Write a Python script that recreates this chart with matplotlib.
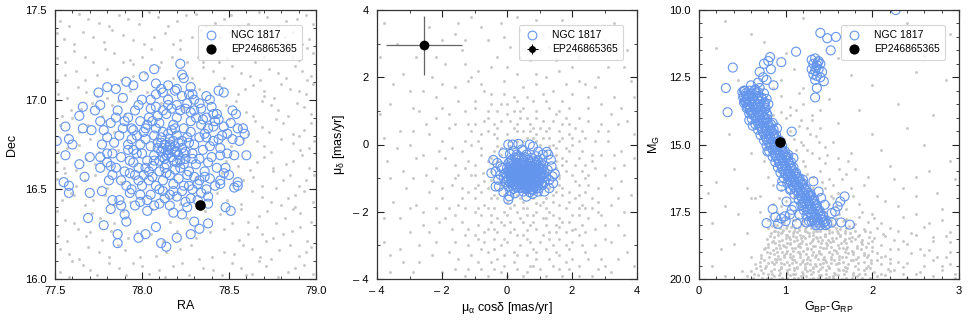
import numpy as np
import matplotlib
matplotlib.use("Agg")
import matplotlib.pyplot as plt
from matplotlib.ticker import MultipleLocator, FuncFormatter
from matplotlib.lines import Line2D

plt.rcParams['font.family'] = ['Liberation Sans', 'DejaVu Sans']
plt.rcParams['mathtext.fontset'] = 'custom'
plt.rcParams['mathtext.rm'] = 'Liberation Sans'
plt.rcParams['mathtext.it'] = 'Liberation Sans'
plt.rcParams['mathtext.default'] = 'regular'

# ---------------- data ----------------
cluster_name = "NGC 1817"
target_name = "EP246865365"

# Panel 1: RA / Dec
field_radec = [
(77.53,16.04),(77.66,16.08),(77.74,16.02),(77.87,16.06),(77.95,16.09),(78.04,16.03),(78.18,16.07),(78.27,16.02),(78.41,16.05),(78.52,16.09),(78.63,16.03),(78.71,16.07),(78.84,16.04),(78.93,16.08),
(77.58,16.14),(77.69,16.18),(77.81,16.12),(77.90,16.16),(78.08,16.13),(78.22,16.17),(78.33,16.11),(78.47,16.15),(78.58,16.19),(78.68,16.12),(78.79,16.16),(78.90,16.13),(78.97,16.18),
(77.52,16.24),(77.63,16.28),(77.77,16.22),(77.97,16.27),(78.12,16.21),(78.39,16.26),(78.56,16.22),(78.66,16.29),(78.75,16.23),(78.86,16.27),(78.95,16.21),
(77.56,16.33),(77.71,16.37),(77.84,16.31),(78.06,16.39),(78.26,16.34),(78.45,16.36),(78.61,16.32),(78.72,16.38),(78.82,16.34),(78.91,16.37),
(77.54,16.44),(77.67,16.41),(77.79,16.47),(77.93,16.43),(78.15,16.46),(78.43,16.48),(78.57,16.42),(78.69,16.46),(78.80,16.41),(78.88,16.47),(78.98,16.43),
(77.51,16.56),(77.62,16.52),(77.73,16.58),(77.88,16.54),(78.31,16.57),(78.52,16.53),(78.64,16.57),(78.77,16.51),(78.85,16.58),(78.94,16.55),
(77.55,16.62),(77.68,16.67),(77.83,16.63),(78.48,16.66),(78.62,16.61),(78.70,16.68),(78.83,16.64),(78.92,16.69),
(77.57,16.73),(77.70,16.78),(77.86,16.72),(78.51,16.74),(78.66,16.77),(78.74,16.71),(78.87,16.76),(78.96,16.73),
(77.53,16.86),(77.64,16.82),(77.79,16.88),(78.57,16.84),(78.65,16.88),(78.73,16.82),(78.81,16.87),(78.93,16.83),
(77.59,16.94),(77.71,16.98),(77.90,16.92),(78.23,16.95),(78.48,16.97),(78.60,16.93),(78.69,16.99),(78.78,16.94),(78.89,16.98),(78.97,16.92),
(77.52,17.03),(77.63,17.07),(77.74,17.02),(77.86,17.08),(78.03,17.04),(78.33,17.06),(78.55,17.03),(78.64,17.08),(78.76,17.01),(78.85,17.06),(78.94,17.03),
(77.56,17.14),(77.67,17.11),(77.80,17.17),(77.95,17.13),(78.10,17.18),(78.29,17.12),(78.41,17.16),(78.52,17.19),(78.62,17.13),(78.73,17.17),(78.83,17.12),(78.92,17.16),
(77.51,17.23),(77.61,17.27),(77.72,17.21),(77.84,17.26),(77.93,17.22),(78.05,17.28),(78.17,17.24),(78.26,17.21),(78.38,17.27),(78.49,17.23),(78.59,17.29),(78.70,17.24),(78.81,17.27),(78.90,17.22),(78.98,17.26),
(77.55,17.34),(77.66,17.38),(77.78,17.32),(77.89,17.36),(78.01,17.31),(78.13,17.37),(78.22,17.33),(78.34,17.39),(78.45,17.35),(78.55,17.31),(78.66,17.37),(78.77,17.33),(78.87,17.38),(78.96,17.34),
(77.53,17.44),(77.64,17.48),(77.75,17.43),(77.87,17.47),(77.98,17.42),(78.09,17.46),(78.20,17.44),(78.31,17.48),(78.42,17.43),(78.51,17.47),(78.61,17.42),(78.72,17.46),(78.83,17.44),(78.94,17.47),
(77.60,16.10),(77.70,16.26),(77.61,16.47),(77.76,16.66),(77.60,16.90),(77.83,16.97),(78.69,16.25),(78.88,16.40),(78.75,16.60),(78.90,16.80),(78.70,17.05),(78.95,17.11),(77.95,17.20),(78.35,17.21),(78.60,16.02),(78.10,16.05),
(77.58,16.01),(77.70,16.05),(77.81,16.09),(77.91,16.02),(78.00,16.07),(78.13,16.01),(78.23,16.09),(78.35,16.06),(78.46,16.02),(78.57,16.06),(78.67,16.10),(78.78,16.01),(78.88,16.06),(78.98,16.03),
(77.53,16.17),(77.64,16.11),(77.75,16.15),(77.86,16.19),(77.99,16.12),(78.14,16.15),(78.28,16.19),(78.40,16.12),(78.53,16.14),(78.63,16.17),(78.74,16.11),(78.85,16.19),(78.94,16.15),
(77.57,16.21),(77.68,16.24),(77.82,16.27),(77.92,16.23),(78.05,16.25),(78.20,16.27),(78.31,16.23),(78.47,16.28),(78.61,16.25),(78.71,16.21),(78.81,16.25),(78.91,16.29),
(77.51,16.38),(77.61,16.31),(77.76,16.34),(77.89,16.38),(78.16,16.32),(78.36,16.38),(78.52,16.31),(78.57,16.39),(78.67,16.35),(78.77,16.31),(78.87,16.39),(78.97,16.32),
(77.59,16.48),(77.72,16.44),(77.84,16.41),(78.00,16.45),(78.22,16.42),(78.49,16.44),(78.63,16.49),(78.74,16.43),(78.84,16.45),(78.93,16.49),
(77.56,16.59),(77.67,16.55),(77.80,16.51),(77.95,16.57),(78.46,16.59),(78.58,16.55),(78.69,16.52),(78.81,16.55),(78.90,16.52),(78.99,16.58),
(77.51,16.65),(77.62,16.61),(77.73,16.64),(78.55,16.63),(78.66,16.65),(78.75,16.62),(78.87,16.66),(78.96,16.62),
(77.52,16.71),(77.64,16.75),(77.75,16.71),(78.58,16.78),(78.70,16.74),(78.80,16.78),(78.91,16.72),(78.99,16.77),
(77.57,16.81),(77.69,16.86),(77.84,16.82),(78.50,16.89),(78.61,16.81),(78.69,16.85),(78.77,16.89),(78.87,16.81),(78.97,16.87),
(77.54,16.91),(77.65,16.95),(77.77,16.91),(77.86,16.99),(78.11,16.98),(78.54,16.99),(78.64,16.91),(78.74,16.97),(78.84,16.91),(78.93,16.96),
(77.57,17.01),(77.68,17.04),(77.80,17.01),(77.93,17.05),(78.15,17.03),(78.44,17.09),(78.59,17.06),(78.70,17.02),(78.80,17.09),(78.90,17.05),(78.98,17.09),
(77.51,17.11),(77.62,17.16),(77.74,17.14),(77.88,17.11),(78.02,17.15),(78.18,17.12),(78.35,17.18),(78.47,17.12),(78.57,17.15),(78.68,17.11),(78.78,17.15),(78.88,17.19),(78.97,17.13),
(77.56,17.21),(77.67,17.24),(77.79,17.28),(77.89,17.21),(78.00,17.24),(78.11,17.21),(78.22,17.28),(78.32,17.24),(78.44,17.21),(78.54,17.26),(78.65,17.21),(78.75,17.28),(78.86,17.24),(78.95,17.29),
(77.51,17.37),(77.61,17.31),(77.72,17.35),(77.83,17.39),(77.95,17.33),(78.07,17.35),(78.18,17.31),(78.29,17.35),(78.40,17.31),(78.50,17.38),(78.61,17.34),(78.72,17.31),(78.82,17.35),(78.92,17.31),
(77.58,17.41),(77.69,17.45),(77.81,17.41),(77.92,17.45),(78.04,17.49),(78.15,17.41),(78.25,17.47),(78.37,17.41),(78.47,17.45),(78.56,17.41),(78.67,17.49),(78.78,17.41),(78.89,17.45),(78.98,17.42),
]

member_radec = [
(77.51,16.77),(77.56,16.85),(77.58,16.78),(77.60,16.75),(77.56,16.69),(77.55,16.54),(77.58,16.52),(77.58,16.48),(77.64,16.91),(77.66,16.96),
(77.66,16.84),(77.64,16.64),(77.67,16.57),(77.69,16.34),(77.70,16.48),(77.70,16.68),(77.71,16.83),(77.73,16.94),(77.75,17.04),(77.76,16.97),
(77.76,16.88),(77.77,16.75),(77.76,16.68),(77.76,16.62),(77.77,16.49),(77.78,16.30),(77.80,17.07),(77.80,16.79),(77.80,16.70),(77.82,16.63),
(77.81,16.55),(77.82,16.39),(77.83,16.44),(77.85,17.06),(77.85,16.90),(77.86,16.94),(77.86,16.25),(77.86,16.20),(77.87,16.44),(77.88,16.41),
(77.89,17.01),(77.90,16.88),(77.90,16.36),(77.91,16.32),(77.91,17.10),(77.92,16.72),(77.93,16.59),(77.94,16.50),(77.95,17.08),(77.95,16.83),
(77.96,16.41),(77.98,16.23),(77.99,16.47),(78.01,17.13),(78.03,16.44),(78.03,16.38),(78.02,16.25),(78.07,17.17),(78.08,17.09),(78.08,16.29),
(78.11,16.20),(78.14,16.18),(78.11,17.06),(78.15,17.08),(78.20,17.06),(78.22,17.20),(78.23,17.14),(78.24,17.12),(78.20,16.23),(78.18,16.37),
(78.23,16.36),(78.28,17.07),(78.29,17.03),(78.28,16.45),(78.28,16.25),(78.30,16.32),(78.33,16.28),(78.34,16.95),(78.35,16.89),(78.37,17.02),
(78.38,16.42),(78.38,16.31),(78.39,17.00),(78.41,16.92),(78.41,16.85),(78.44,17.05),(78.47,17.04),(78.47,16.59),(78.48,16.40),(78.51,16.38),
(78.45,16.53),(78.44,16.78),(78.49,16.81),(78.51,16.87),(78.52,16.94),(78.54,16.92),(78.55,16.84),(78.56,16.77),(78.53,16.69),(78.55,16.54),
(78.55,16.52),(78.58,16.84),(78.59,16.81),(78.60,16.69),(78.53,16.51),(78.44,16.89),(78.45,16.69),
(78.17,16.72),(78.15,16.70),(78.19,16.74),(78.13,16.75),(78.21,16.69),(78.16,16.78),(78.18,16.66),(78.11,16.71),(78.23,16.73),(78.14,16.64),
(78.20,16.80),(78.09,16.76),(78.25,16.67),(78.12,16.82),(78.22,16.62),(78.07,16.69),(78.27,16.76),(78.10,16.60),(78.24,16.84),(78.05,16.74),
(78.29,16.70),(78.16,16.58),(78.18,16.86),(78.03,16.66),(78.31,16.64),(78.08,16.84),(78.26,16.58),(78.02,16.78),(78.33,16.79),(78.12,16.55),
(78.20,16.90),(78.00,16.70),(78.35,16.72),(78.06,16.57),(78.28,16.88),(77.98,16.62),(78.36,16.60),(78.14,16.92),(78.24,16.52),(77.97,16.80),
(78.38,16.84),(78.10,16.50),(78.30,16.94),(77.95,16.72),(78.40,16.68),(78.04,16.90),(78.32,16.53),(77.96,16.58),(78.41,16.77),(78.18,16.49),
(78.08,16.96),(78.37,16.90),(77.93,16.66),(78.26,16.98),(78.00,16.52),(78.43,16.62),(78.15,16.97),(77.99,16.88),(78.34,16.48),(78.22,16.94),
(78.13,16.67),(78.19,16.61),(78.11,16.79),(78.23,16.77),(78.06,16.63),(78.28,16.82),(78.17,16.83),(78.14,16.59),(78.21,16.56),(78.09,16.73),
(78.25,16.71),(78.16,16.75),(78.12,16.68),(78.20,16.65),(78.07,16.80),(78.30,16.75),(78.04,16.60),(78.33,16.67),(78.18,16.53),(78.10,16.87),
(78.27,16.60),(78.02,16.84),(78.36,16.81),(78.13,16.45),(78.29,16.50),(77.92,16.75),(78.39,16.56),(78.05,16.95),(78.42,16.88),(77.94,16.84),
(78.15,17.00),(78.30,17.00),(78.00,17.00),(78.10,16.42),(78.25,16.43),(77.90,16.60),(78.45,16.73),(77.88,16.68),(78.46,16.80),(77.91,16.52),
(78.38,16.46),(78.20,16.46),(78.05,16.47),(77.96,16.94),(78.40,16.96),(78.45,16.55),(77.87,16.80),(78.23,17.02),(78.08,17.03),
(78.16,16.74),(78.19,16.71),(78.14,16.69),(78.21,16.76),(78.17,16.68),(78.12,16.73),(78.24,16.70),(78.15,16.81),(78.22,16.66),(78.10,16.66),
(77.95,16.65),(77.97,16.70),(77.99,16.75),(77.94,16.78),(78.01,16.82),(78.03,16.86),(78.06,16.88),(78.09,16.91),(78.12,16.94),(78.17,16.95),
(78.20,16.97),(78.25,16.95),(78.28,16.93),(78.31,16.90),(78.34,16.86),(78.37,16.79),(78.39,16.74),(78.38,16.65),(78.36,16.57),(78.33,16.55),
(78.30,16.57),(78.27,16.52),(78.23,16.49),(78.16,16.47),(78.12,16.49),(78.08,16.52),(78.04,16.55),(78.01,16.58),(77.98,16.55),(78.02,16.62),
(77.85,16.62),(77.83,16.70),(77.84,16.76),(77.89,16.84),(77.92,16.90),(77.98,16.97),(78.05,17.00),(78.12,17.04),(78.19,17.05),(78.27,17.03),
(78.33,16.98),(78.43,16.92),(78.47,16.85),(78.49,16.70),(78.48,16.62),(78.42,16.52),(78.37,16.50),(78.32,16.44),(78.26,16.40),(78.16,16.41),
(78.07,16.41),(77.99,16.43),(77.93,16.48),(77.88,16.55),(77.83,16.58),(77.80,16.65),(77.78,16.83),(77.82,16.87),(78.52,16.78),(78.50,16.58),
(78.15,16.72),(78.18,16.77),(78.13,16.62),(78.24,16.64),(78.20,16.71),(78.11,16.76),(78.26,16.79),(78.07,16.66),(78.29,16.67),(78.19,16.84),
]

target_ra = [78.335]
target_dec = [16.415]

# Panel 2: proper motions
field_pm = [
(-3.8,3.6),(-3.2,2.1),(-3.6,1.2),(-2.9,0.4),(-3.7,-0.5),(-3.1,-1.3),(-3.8,-2.2),(-3.3,-3.1),(-3.6,-3.8),(-2.7,-3.5),(-2.4,-2.6),(-2.8,-1.8),(-2.5,-0.9),(-2.2,0.8),(-2.6,1.6),
(-1.9,2.4),(-1.6,3.3),(-1.1,3.8),(-0.6,3.1),(-0.2,3.6),(0.4,3.4),(0.9,3.7),(1.3,2.9),(1.9,3.4),(2.6,3.2),(3.3,3.6),(3.7,2.8),(3.1,2.3),(2.2,2.6),(3.8,1.9),(3.5,1.1),
(3.9,0.3),(3.6,-0.6),(3.8,-1.5),(3.4,-2.4),(3.7,-3.2),(3.2,-3.8),(-1.3,-3.9),(-0.8,-3.7),(-2.0,-3.8),(-3.9,2.6),(-3.4,3.0),(-2.0,3.1),(-1.4,2.8),(-0.9,2.2),(-0.3,2.6),
(0.1,2.9),(0.7,2.5),(1.6,2.2),(2.8,2.0),(-3.4,-0.1),(-3.9,0.9),(-3.0,-2.6),(-3.5,-1.7),
(-2.1,-0.2),(-1.8,0.5),(-1.5,1.3),(-1.2,1.9),(-0.7,1.6),(-0.1,1.9),(0.3,2.1),(0.9,1.8),(1.4,1.6),(2.0,1.5),(2.5,1.1),(2.9,0.6),(3.1,0.1),(3.0,-0.9),(2.8,-1.7),(3.0,-2.8),
(2.5,-3.4),(1.9,-3.7),(1.2,-3.9),(0.6,-3.8),(-0.1,-3.6),(-0.6,-3.2),(-1.2,-3.0),(-1.7,-2.5),(-2.0,-1.6),(-2.3,-1.1),(-1.9,-2.2),(-1.4,-1.3),(-1.6,-0.6),(-1.0,0.6),(-0.5,1.2),
(0.2,1.4),(0.8,1.3),(1.3,1.1),(1.8,0.8),(2.3,0.4),(2.6,-0.3),(2.4,-1.0),(2.2,-2.1),(2.7,-2.5),(1.6,-3.3),(0.9,-3.4),(0.2,-3.2),(-0.4,-2.8),(-0.9,-2.4),(-1.3,-1.9),(-1.1,-0.9),
(-1.3,0.1),(-0.6,0.4),(0.0,0.9),(0.6,0.8),(1.1,0.7),(1.6,0.4),(2.0,0.0),(2.1,-0.6),(1.9,-1.4),(1.7,-2.3),(2.0,-2.9),(1.3,-2.8),(0.7,-2.9),(0.1,-2.6),(-0.3,-2.2),(-0.7,-1.8),
(-0.9,-1.2),(-0.8,-0.3),(-0.3,0.2),(0.3,0.4),(0.9,0.3),(1.4,0.0),(1.7,-0.4),(1.6,-1.0),(1.4,-1.7),(1.1,-2.2),(0.5,-2.3),(-0.1,-2.0),(-0.4,-1.5),(-0.5,-0.8),(-0.2,-0.3),
(0.6,-1.9),(0.2,-1.8),(1.0,-1.8),(1.3,-1.3),(1.5,-0.7),(1.2,-0.2),(0.8,0.2),(0.3,0.1),(-0.2,-0.1),(-0.6,-0.5),(-0.7,-1.1),(-0.5,-1.6),(-0.1,-1.5),(1.8,-0.8),(1.8,-1.9),
(0.9,-2.5),(0.3,-2.7),(-0.3,-2.6),(-0.8,-2.1),(-1.0,-1.6),(-1.2,-0.5),(-0.9,0.1),(-0.4,0.6),(0.1,0.7),(0.7,0.6),(1.2,0.4),(1.6,0.1),(1.9,-0.2),(2.2,-1.2),(2.3,-1.8),
(2.1,-2.5),(1.5,-2.6),(1.2,-3.1),(0.4,-3.0),(-0.2,-3.0),(-0.6,-2.5),(1.0,-1.5),(0.4,-1.6),(-0.2,-1.2),(1.3,-0.9),(1.7,-1.5),(1.4,-2.1),(0.8,-2.1),(0.1,-2.3),(-0.4,-1.9),
(-0.6,-1.3),(-0.4,-0.2),(0.0,0.3),(0.5,0.4),(1.0,0.0),(1.5,-0.3),(2.4,-1.4),(2.5,-2.2),(1.9,-3.1),(0.6,-3.3),(-0.1,-3.3),(-0.9,-2.8),(-1.4,-2.3),(-1.5,-0.9),(-1.7,-0.1),
(-1.1,0.4),(0.0,1.2),(0.5,1.1),(1.6,1.0),(2.1,0.5),(2.7,-0.7),(2.6,-1.6),(2.3,-3.0),(1.4,-3.6),(0.3,-3.7),(-0.5,-3.5),(2.9,-3.4),(2.6,-3.9),(1.0,-3.7),(0.0,-3.9),
(-1.5,-3.4),(-2.2,-2.9),(-2.6,-2.0),(-2.8,-0.4),(-2.4,0.3),(-2.0,1.1),(-1.0,1.3),(-0.3,1.0),(0.5,1.7),(1.2,2.0),(2.4,1.8),(3.3,1.4),(3.4,0.6),(3.3,-0.3),(3.5,-1.1),
(3.2,-1.8),(3.6,-2.7),(3.0,-3.6),
(0.5,-1.9),(0.0,-2.1),(-0.5,-2.3),(-1.0,-2.0),(-1.2,-1.4),(-1.0,-0.6),(-0.8,0.3),(-0.3,0.5),(0.3,0.6),(0.8,0.5),(1.3,0.2),(1.8,-0.1),(2.0,-0.9),(2.1,-1.6),(1.9,-2.3),
(1.6,-2.8),(1.0,-2.9),(0.5,-2.7),(-0.1,-2.8),(-0.7,-2.9),(1.2,-1.9),(1.6,-1.8),(2.2,-1.9),(2.4,-2.6),(2.0,-3.4),(1.5,-3.2),(0.8,-3.1),(0.2,-3.5),(-0.4,-3.1),(-1.1,-3.3),
(-1.6,-2.9),(-1.8,-1.9),(-1.7,-1.2),(-1.9,-0.4),(-1.6,0.6),(-1.3,1.0),(-0.6,1.0),(0.2,1.0),(0.9,1.0),(1.4,0.7),(1.9,0.3),(2.3,-0.2),(2.5,-0.9),(2.8,-1.3),(2.9,-2.1),
(2.7,-3.0),(2.2,-3.6),(1.7,-3.9),(0.8,-3.6),(-0.2,-3.8),(-0.9,-3.5),(0.6,-2.1),(0.3,-2.0),(0.9,-2.0),(1.1,-1.7),(1.4,-1.5),(1.6,-1.2),(1.7,-0.6),(1.5,-0.1),(1.1,0.2),
(0.6,0.2),(0.1,0.1),(-0.3,-0.05),(-0.5,-0.4),(-0.75,-0.85),(-0.8,-1.4),(-0.6,-1.9),(-0.2,-2.3),(0.2,-2.5),(0.7,-2.4),(1.2,-2.4),(1.6,-2.2),(1.9,-1.7),(2.1,-1.1),(2.2,-0.4),
(2.0,0.2),(1.7,0.6),(1.0,0.5),(0.4,0.8),(-0.2,0.7),(-0.7,0.7),(-1.1,0.0),(-1.3,-0.7),(-1.4,-1.6),(-1.2,-2.5),(-0.7,-2.6),(0.0,-2.9),(0.6,-2.8),(1.3,-2.6),(1.8,-2.6),
(2.3,-2.4),(2.6,-1.9),(2.4,-0.6),(2.7,0.1),(2.5,0.7),(1.9,1.1),(1.2,1.3),(0.6,1.4),(-0.1,1.5),(-0.8,1.8),(-1.6,1.7),(-2.2,1.4),(-2.5,0.6),(-2.6,-0.3),(-2.4,-1.4),
(-2.1,-2.3),(-1.8,-3.2),(-1.2,-3.7),(-0.6,-3.9),(0.5,-3.9),(1.3,-3.4),(1.8,-3.5),(2.4,-3.2),(3.0,-2.4),(3.2,-1.3),(3.3,-0.7),(3.1,0.4),(2.9,1.2),(2.2,1.9),(1.5,2.5),
(0.4,2.6),(-0.5,2.3),(-1.3,2.4),(-2.3,2.0),(-2.9,1.1),(-3.3,0.4),(-3.2,-0.8),(-3.0,-1.9),(-2.7,-3.0),(-3.2,-3.5),(-3.8,-2.9),(-3.6,-1.0),(-3.8,0.2),(-3.5,1.8),(-2.8,2.6),
(-2.4,3.5),(-1.5,3.6),(-0.8,3.5),(0.3,3.8),(1.1,3.3),(1.7,3.7),(2.4,2.9),(3.0,3.1),(3.6,2.3),(3.9,1.4),(3.7,0.7),(3.9,-0.4),(3.6,-2.0),(3.9,-3.6),(3.4,-3.4),
(0.0,-1.7),(0.3,-1.5),(0.8,-1.6),(1.2,-1.6),(1.5,-1.4),(1.6,-0.9),(1.5,-0.5),(1.3,-0.05),(0.9,0.1),(0.5,0.1),(0.1,-0.05),(-0.3,-0.5),(-0.5,-1.05),(-0.3,-1.6),(0.1,-1.9),
(0.5,-1.7),(0.9,-1.75),(1.3,-2.0),(1.7,-1.3),(1.8,-0.5),(1.7,0.2),(1.3,0.5),(0.7,0.4),(0.2,0.5),(-0.4,0.3),(-0.8,-0.1),(-1.0,-0.9),(-1.0,-1.3),(-0.9,-1.9),(-0.5,-2.1),
(-0.1,-2.4),(0.4,-2.2),(0.8,-2.3),(1.2,-2.2),(1.5,-2.4),(2.0,-2.1),(2.2,-1.5),(2.3,-0.8),(2.2,0.1),(1.9,0.6),(1.5,0.9),(0.9,0.8),(0.4,1.0),(-0.2,1.2),(-0.6,0.8),
(-1.2,0.6),(-1.4,-0.2),(-1.6,-1.0),(-1.5,-1.8),(-1.3,-2.7),(-0.8,-3.1),(-0.3,-3.4),(0.3,-3.3),(0.9,-3.2),(1.4,-3.0),(1.8,-3.0),(2.2,-2.7),(2.5,-1.2),(2.6,-0.5),(2.4,0.2),
(2.2,0.8),(1.7,1.3),(1.1,1.5),(0.3,1.3),(-0.5,1.5),(-1.0,1.1),(-1.8,0.9),(-2.0,0.1),(-2.2,-0.7),(-2.0,-1.3),(-2.2,-1.9),(-1.6,-2.1),(-1.0,-2.7),(-0.4,-2.5),(0.6,-2.55),
(1.1,-2.7),(1.6,-2.45),(2.0,-2.55),(2.4,-1.9),(2.8,-2.0),(2.9,-0.3),(2.8,0.4),(2.5,1.4),(1.8,1.8),(0.9,2.1),(0.0,2.3),(-1.1,2.0),(-2.0,1.8),(-2.7,1.0),(-3.0,0.0),
(-2.9,-1.0),(-2.6,-2.4),(-2.3,-3.3),(-1.6,-3.7),(-0.4,-3.7),(0.7,-3.6),(1.6,-3.7),(2.2,-3.9),(2.8,-3.7),(3.2,-2.9),(3.4,-1.6),(3.5,-0.2),(3.2,0.9),(2.7,1.7),(2.0,2.3),
(1.0,2.8),(-0.1,3.2),(-1.3,3.1),(-2.2,2.6),(-3.0,1.6),(-3.3,-2.2),(-3.6,-3.3),(-2.9,-3.8),
]

member_pm = [
(-0.42,-0.46),(-0.48,-0.85),(-0.35,-1.25),(0.04,0.00),(0.17,0.00),(0.35,0.02),(0.70,0.00),(-0.11,-0.26),(0.09,-0.28),(0.96,-0.21),(1.22,-0.22),(1.27,-0.30),
(1.37,-0.65),(1.47,-0.87),(1.42,-1.15),(1.15,-1.40),(0.79,-1.47),(0.04,-1.64),(-0.11,-1.42),(-0.27,-1.05),(-0.20,-0.65),(0.07,-1.54),(0.50,-0.18),(0.80,-0.06),
(0.05,-0.55),(0.15,-0.45),(0.25,-0.40),(0.35,-0.35),(0.45,-0.42),(0.55,-0.38),(0.65,-0.45),(0.75,-0.40),(0.85,-0.50),(0.95,-0.48),(1.05,-0.55),
(0.00,-0.70),(0.10,-0.65),(0.20,-0.60),(0.30,-0.55),(0.40,-0.60),(0.50,-0.55),(0.60,-0.62),(0.70,-0.58),(0.80,-0.65),(0.90,-0.60),(1.00,-0.68),(1.10,-0.72),
(-0.05,-0.85),(0.05,-0.80),(0.15,-0.78),(0.25,-0.75),(0.35,-0.72),(0.45,-0.70),(0.55,-0.75),(0.65,-0.72),(0.75,-0.78),(0.85,-0.75),(0.95,-0.80),(1.05,-0.85),(1.15,-0.82),
(-0.10,-1.00),(0.00,-0.95),(0.10,-0.92),(0.20,-0.90),(0.30,-0.88),(0.40,-0.85),(0.50,-0.90),(0.60,-0.87),(0.70,-0.92),(0.80,-0.90),(0.90,-0.95),(1.00,-0.98),(1.10,-1.00),(1.20,-0.95),
(-0.05,-1.12),(0.05,-1.08),(0.15,-1.05),(0.25,-1.02),(0.35,-1.00),(0.45,-1.05),(0.55,-1.02),(0.65,-1.06),(0.75,-1.04),(0.85,-1.10),(0.95,-1.08),(1.05,-1.15),(1.15,-1.12),
(0.05,-1.25),(0.15,-1.20),(0.25,-1.18),(0.35,-1.15),(0.45,-1.20),(0.55,-1.17),(0.65,-1.22),(0.75,-1.20),(0.85,-1.25),(0.95,-1.22),
(0.20,-1.32),(0.40,-1.30),(0.60,-1.33),(0.80,-1.35),(0.30,-0.30),(0.60,-0.30),(0.90,-0.35),(-0.15,-0.70),(1.25,-0.75),(1.30,-1.05),(-0.20,-0.90),(0.50,-1.40),(0.70,-1.42),(0.10,-1.38),
(0.10,-0.50),(0.30,-0.45),(0.50,-0.48),(0.70,-0.50),(0.90,-0.55),(0.20,-0.68),(0.45,-0.62),(0.65,-0.66),(0.85,-0.70),(1.05,-0.75),(0.10,-0.85),(0.30,-0.80),(0.50,-0.78),
(0.70,-0.82),(0.90,-0.86),(1.10,-0.90),(0.00,-1.05),(0.20,-0.97),(0.40,-0.95),(0.60,-0.97),(0.80,-1.00),(1.00,-1.05),(0.10,-1.15),(0.30,-1.10),(0.50,-1.12),(0.70,-1.12),
(0.90,-1.15),(1.10,-1.20),(0.30,-1.25),(0.50,-1.28),(0.70,-1.28),(0.90,-1.30),(0.25,-0.90),(0.55,-0.85),(0.75,-0.95),(0.35,-1.05),(0.65,-0.80),(0.45,-1.00),(0.85,-1.02),
(0.15,-0.90),(-0.30,-0.55),(-0.35,-0.80),(1.35,-0.45),(1.40,-0.95),(1.30,-1.30),(0.25,-1.45),(0.95,-1.40),(0.20,-0.20),(0.45,-0.15),(1.10,-0.30),(-0.25,-1.25),(0.60,-1.55),
(0.12,-0.58),(0.28,-0.62),(0.42,-0.55),(0.58,-0.60),(0.72,-0.64),(0.88,-0.62),(1.02,-0.62),(0.08,-0.76),(0.22,-0.82),(0.38,-0.78),(0.52,-0.84),(0.68,-0.76),(0.82,-0.82),
(0.98,-0.74),(0.12,-1.00),(0.28,-0.96),(0.42,-0.92),(0.58,-0.95),(0.72,-1.00),(0.88,-0.98),(1.02,-0.92),(0.18,-1.12),(0.38,-1.18),(0.52,-1.08),(0.68,-1.16),(0.82,-1.18),
(0.98,-1.12),(0.28,-1.28),(0.62,-1.26),(0.78,-1.32),(0.42,-0.70),(0.62,-0.70),(0.32,-0.92),(0.48,-1.16),(0.78,-0.68),(0.92,-0.88),(0.18,-0.72),(0.58,-1.30),(0.98,-1.30),(1.12,-0.62),
]

target_pmra = [-2.55]
target_pmdec = [2.95]
target_pmra_err = [1.18]
target_pmdec_err = [0.88]

# Panel 3: colour-magnitude diagram
field_cmd = [
(0.30,10.4),(0.60,10.9),(1.20,10.3),(1.70,10.6),(2.40,10.5),(2.90,10.9),(0.20,11.4),(0.75,11.2),(1.00,11.6),(1.60,11.8),(2.10,11.3),(2.60,11.7),(0.45,12.6),(1.10,12.2),
(1.20,12.9),(1.75,12.4),(2.00,12.8),(2.50,12.3),(2.85,12.6),(0.50,13.3),(0.95,13.2),(1.05,13.6),(1.20,13.5),(1.50,13.3),(1.85,13.7),(2.30,13.5),(2.70,13.9),(0.85,13.9),
(0.90,14.2),(1.00,14.0),(1.15,14.3),(1.30,14.1),(1.40,14.4),(1.60,14.2),(2.00,14.6),(2.40,14.4),(0.35,14.6),(0.60,15.3),(0.90,14.6),(1.10,14.8),(1.20,15.0),(1.35,14.7),
(1.45,15.1),(1.55,14.9),(1.75,15.3),(2.10,15.2),(2.60,15.0),(2.90,15.6),(0.40,15.9),(0.75,15.6),(1.00,15.4),(1.20,15.6),(1.30,15.3),(1.45,15.7),(1.60,15.5),(1.80,15.9),
(2.20,15.8),(2.50,16.2),(0.20,16.4),(0.55,16.6),(0.80,16.2),(0.95,16.7),(1.15,16.4),(1.25,16.1),(1.50,16.3),(1.60,16.8),(1.70,16.1),(1.90,16.5),(2.05,16.9),(2.35,16.6),
(2.75,16.8),(2.95,16.3),(0.65,17.0),(0.85,17.2),(1.00,17.1),(1.30,17.3),(1.55,17.0),(1.70,17.4),(1.85,17.2),(2.00,17.6),(2.30,17.3),(2.50,17.6),(2.80,17.4),(0.45,17.6),(0.70,17.5),
(0.80,17.8),(0.90,18.0),(0.95,18.3),(1.00,18.1),(1.05,18.5),(1.10,18.2),(1.15,18.7),(1.20,18.4),(1.25,18.9),(1.30,18.6),(1.35,18.2),(1.40,18.8),(1.45,18.4),(1.50,19.0),
(1.55,18.6),(1.60,18.3),(1.65,19.2),(1.70,18.9),(1.80,18.5),(1.90,19.1),(2.00,18.8),(0.85,18.6),(0.90,19.0),(0.95,19.4),(1.00,18.8),(1.05,19.2),(1.10,19.6),(1.15,19.0),
(1.20,19.3),(1.25,19.7),(1.30,19.1),(1.35,19.5),(1.40,19.9),(1.45,19.3),(1.50,19.6),(1.55,19.9),(1.60,19.4),(1.70,19.7),(1.75,19.3),(1.85,19.8),(1.95,19.5),(2.10,19.2),
(2.20,19.7),(2.30,18.9),(2.40,19.4),(2.50,19.8),(2.60,19.1),(2.70,18.6),(2.80,19.5),(2.90,19.0),(2.95,19.8),(2.45,18.3),(2.20,18.1),(2.65,17.9),(0.75,18.9),(0.70,19.5),
(0.80,19.8),(0.60,19.2),(0.50,19.7),(0.30,19.9),(0.98,17.9),(1.08,17.8),(1.18,17.9),(1.28,18.0),(1.38,17.9),(1.02,18.35),(1.12,18.45),(1.22,18.15),(1.32,18.35),(1.42,18.55),
(0.92,18.75),(1.08,18.95),(1.18,18.65),(1.38,19.05),(1.48,18.75),(1.58,18.95),(1.12,19.35),(1.22,19.55),(1.32,19.75),(1.42,19.55),(1.52,19.25),(1.62,19.65),(1.02,19.65),
(0.92,19.85),(1.18,19.90),(1.28,19.45),(1.08,19.80),(0.88,19.25),(1.35,18.45),(1.25,18.25),(1.15,18.05),(1.05,18.70),(0.98,19.10),(1.68,18.50),(1.78,19.00),(1.88,18.70),
(1.98,19.30),(2.05,19.90),(2.15,18.40),(2.35,18.60),(2.55,18.90),(2.75,19.20),(2.85,18.40),
(0.95,13.8),(1.05,14.5),(1.18,14.9),(1.25,15.2),(1.38,15.5),(1.10,15.9),(1.40,16.0),(1.45,16.6),(1.35,16.9),(1.50,17.2),(1.62,17.6),(1.10,16.9),(0.90,17.5),(1.75,16.6),
(1.22,17.6),(1.48,17.8),(1.58,17.9),(1.70,18.1),(0.88,18.2),(1.92,18.2),(2.10,17.9),(1.30,13.9),(1.15,13.1),(0.85,12.9),(0.95,12.6),(0.92,17.0),(1.02,16.2),(1.28,14.6),
(0.82,17.65),(0.93,17.72),(1.04,17.66),(1.14,17.75),(1.26,17.68),(1.36,17.74),(1.47,17.66),(1.58,17.72),(1.70,17.78),(1.85,17.68),(2.02,17.75),(2.35,17.70),(2.80,17.80),
(0.86,17.95),(0.97,17.85),(1.09,17.98),(1.20,17.83),(1.31,17.96),(1.43,17.84),(1.55,17.98),(1.66,17.86),(1.80,17.95),(1.95,17.87),
(0.80,18.10),(0.88,18.05),(0.97,18.18),(1.06,18.08),(1.15,18.16),(1.24,18.06),(1.33,18.15),(1.42,18.08),(1.50,18.18),(1.58,18.10),(1.68,18.20),(1.78,18.06),(1.90,18.15),(2.05,18.10),(2.30,18.20),(2.60,18.05),
(0.83,18.30),(0.91,18.25),(1.00,18.38),(1.08,18.28),(1.17,18.35),(1.27,18.30),(1.36,18.22),(1.45,18.32),(1.54,18.25),(1.63,18.38),(1.74,18.28),(1.85,18.36),(1.97,18.25),(2.12,18.32),(2.50,18.38),(2.90,18.25),
(0.78,18.50),(0.87,18.45),(0.96,18.55),(1.04,18.45),(1.13,18.56),(1.22,18.48),(1.31,18.52),(1.40,18.45),(1.49,18.55),(1.58,18.47),(1.67,18.58),(1.77,18.45),(1.88,18.55),(2.02,18.48),(2.25,18.55),(2.70,18.45),
(0.80,18.70),(0.88,18.65),(0.97,18.75),(1.05,18.66),(1.14,18.78),(1.23,18.70),(1.32,18.78),(1.41,18.68),(1.51,18.62),(1.60,18.75),(1.70,18.66),(1.82,18.78),(1.95,18.66),(2.10,18.75),(2.40,18.70),(2.90,18.62),
(0.76,18.85),(0.85,18.92),(0.94,18.85),(1.02,18.95),(1.11,18.85),(1.20,18.95),(1.29,18.88),(1.38,18.95),(1.47,18.85),(1.56,18.92),(1.66,18.85),(1.76,18.96),(1.87,18.88),(2.00,18.95),(2.20,18.88),(2.65,18.92),
(0.72,19.10),(0.82,19.05),(0.91,19.15),(1.00,19.05),(1.08,19.15),(1.17,19.08),(1.26,19.18),(1.35,19.10),(1.44,19.18),(1.53,19.08),(1.62,19.15),(1.72,19.05),(1.83,19.18),(1.95,19.10),(2.15,19.15),(2.45,19.05),(2.85,19.18),
(0.75,19.30),(0.84,19.35),(0.93,19.25),(1.01,19.35),(1.10,19.28),(1.19,19.38),(1.28,19.30),(1.37,19.25),(1.46,19.36),(1.56,19.30),(1.66,19.38),(1.78,19.28),(1.90,19.36),(2.05,19.28),(2.30,19.35),(2.70,19.30),
(0.65,19.45),(0.77,19.50),(0.86,19.45),(0.95,19.55),(1.04,19.48),(1.13,19.56),(1.22,19.45),(1.31,19.55),(1.40,19.45),(1.49,19.52),(1.58,19.45),(1.68,19.55),(1.80,19.50),(1.93,19.58),(2.10,19.45),(2.35,19.55),(2.60,19.50),(2.90,19.45),
(0.60,19.70),(0.72,19.65),(0.83,19.72),(0.92,19.65),(1.01,19.75),(1.10,19.68),(1.19,19.75),(1.28,19.65),(1.37,19.72),(1.46,19.68),(1.56,19.78),(1.66,19.68),(1.78,19.76),(1.90,19.68),(2.02,19.75),(2.25,19.68),(2.55,19.75),(2.80,19.65),
(0.55,19.90),(0.68,19.85),(0.78,19.95),(0.87,19.88),(0.96,19.95),(1.05,19.86),(1.14,19.95),(1.23,19.88),(1.32,19.96),(1.41,19.86),(1.50,19.94),(1.60,19.86),(1.70,19.95),(1.82,19.88),(1.97,19.96),(2.15,19.86),(2.40,19.95),(2.70,19.88),(2.95,19.95),
(0.98,14.8),(1.12,15.2),(1.22,15.8),(1.32,16.2),(1.42,16.4),(1.52,16.9),(1.58,17.3),(1.45,17.5),(1.32,16.6),(1.55,16.5),(1.65,16.3),(1.78,16.9),(1.88,17.5),(2.15,17.1),(2.50,16.9),
(1.25,14.4),(1.38,14.9),(1.48,15.4),(1.62,15.9),(1.72,15.6),(1.95,16.2),(2.25,16.3),(2.65,16.0),(1.05,13.9),(1.12,13.7),(1.40,13.7),(0.98,15.1),(1.18,14.1),(0.92,16.0),
(0.85,16.5),(0.70,16.9),(0.95,17.3),(0.55,18.3),(0.40,18.7),(0.25,18.9),(0.15,19.5),(0.60,17.0),(0.30,17.3),(0.10,16.8),(0.15,17.9),
(0.88,17.78),(0.99,17.74),(1.11,17.79),(1.23,17.73),(1.34,17.78),(1.45,17.72),(1.52,17.80),
(0.84,18.02),(0.93,18.12),(1.02,18.03),(1.11,18.11),(1.20,18.01),(1.29,18.09),(1.38,18.03),(1.46,18.12),(1.55,18.04),(1.63,18.13),(1.73,18.02),
(0.87,18.21),(0.96,18.27),(1.04,18.20),(1.13,18.26),(1.22,18.21),(1.31,18.27),(1.40,18.20),(1.50,18.28),(1.59,18.21),(1.69,18.30),(1.80,18.22),
(0.82,18.42),(0.91,18.38),(1.00,18.46),(1.09,18.40),(1.18,18.47),(1.27,18.40),(1.36,18.48),(1.45,18.40),(1.54,18.46),(1.63,18.41),(1.73,18.48),(1.84,18.42),(1.96,18.45),
(0.84,18.62),(0.92,18.58),(1.01,18.65),(1.10,18.60),(1.19,18.58),(1.28,18.66),(1.37,18.60),(1.46,18.67),(1.55,18.58),(1.64,18.65),(1.75,18.60),(1.87,18.64),(2.00,18.60),
(0.80,18.80),(0.89,18.85),(0.98,18.78),(1.07,18.84),(1.16,18.80),(1.25,18.85),(1.34,18.79),(1.43,18.86),(1.52,18.80),(1.61,18.86),(1.71,18.80),(1.82,18.86),(1.93,18.80),
(0.78,19.00),(0.87,19.06),(0.96,19.00),(1.05,19.07),(1.14,19.00),(1.23,19.06),(1.32,19.00),(1.41,19.07),(1.50,19.00),(1.59,19.05),(1.68,19.00),(1.78,19.08),(1.90,19.02),(2.05,19.05),
(0.72,19.22),(0.81,19.18),(0.90,19.24),(0.98,19.20),(1.07,19.25),(1.16,19.20),(1.25,19.24),(1.34,19.20),(1.43,19.25),(1.52,19.20),(1.61,19.25),(1.70,19.20),(1.81,19.25),(1.94,19.20),(2.20,19.25),
(0.70,19.38),(0.80,19.42),(0.89,19.38),(0.98,19.44),(1.07,19.40),(1.16,19.45),(1.25,19.40),(1.34,19.44),(1.43,19.40),(1.52,19.42),(1.62,19.40),(1.72,19.44),(1.84,19.40),(1.98,19.42),(2.20,19.40),
(0.66,19.60),(0.76,19.58),(0.86,19.62),(0.95,19.60),(1.04,19.62),(1.13,19.58),(1.22,19.62),(1.31,19.60),(1.40,19.63),(1.50,19.60),(1.60,19.62),(1.71,19.60),(1.83,19.62),(1.97,19.60),(2.18,19.62),
(0.64,19.80),(0.74,19.78),(0.84,19.82),(0.93,19.78),(1.02,19.82),(1.11,19.80),(1.20,19.82),(1.29,19.80),(1.38,19.84),(1.47,19.80),(1.57,19.82),(1.67,19.80),(1.78,19.84),(1.92,19.80),(2.10,19.82),(2.35,19.80),
(0.62,19.97),(0.73,19.98),(0.83,19.97),(0.92,19.99),(1.01,19.97),(1.10,19.98),(1.19,19.97),(1.28,19.99),(1.37,19.97),(1.46,19.98),(1.55,19.97),(1.65,19.99),(1.76,19.97),(1.88,19.98),
]

member_cmd = [
(0.53,13.0),(0.58,13.0),(0.64,13.0),(0.54,13.1),(0.60,13.1),(0.66,13.1),(0.52,13.2),(0.57,13.2),(0.62,13.2),(0.68,13.2),(0.55,13.3),(0.61,13.3),(0.67,13.3),(0.73,13.3),
(0.54,13.4),(0.59,13.4),(0.64,13.4),(0.70,13.4),(0.56,13.5),(0.62,13.5),(0.68,13.5),(0.75,13.5),(0.58,13.6),(0.63,13.6),(0.69,13.6),(0.59,13.7),(0.65,13.7),(0.71,13.7),
(0.61,13.8),(0.67,13.8),(0.73,13.8),(0.63,13.9),(0.69,13.9),(0.74,13.9),(0.65,14.0),(0.70,14.0),(0.76,14.0),(0.67,14.1),(0.72,14.1),(0.77,14.1),(0.68,14.2),(0.74,14.2),
(0.79,14.2),(0.70,14.3),(0.75,14.3),(0.81,14.3),(0.72,14.4),(0.77,14.4),(0.82,14.4),(0.73,14.5),(0.78,14.5),(0.84,14.5),(0.75,14.6),(0.80,14.6),(0.86,14.6),(0.77,14.7),
(0.82,14.7),(0.87,14.7),(0.78,14.8),(0.83,14.8),(0.89,14.8),(0.80,14.9),(0.85,14.9),(0.91,14.9),(0.82,15.0),(0.87,15.0),(0.93,15.0),(0.83,15.1),(0.88,15.1),(0.94,15.1),
(0.85,15.2),(0.90,15.2),(0.96,15.2),(0.87,15.3),(0.92,15.3),(0.97,15.3),(0.88,15.4),(0.93,15.4),(0.99,15.4),(0.90,15.5),(0.95,15.5),(1.01,15.5),(0.92,15.6),(0.97,15.6),
(1.03,15.6),(0.93,15.7),(0.98,15.7),(1.04,15.7),(0.95,15.8),(1.00,15.8),(1.06,15.8),(0.96,15.9),(1.01,15.9),(1.07,15.9),(0.98,16.0),(1.03,16.0),(1.09,16.0),(1.00,16.1),
(1.05,16.1),(1.11,16.1),(1.02,16.2),(1.07,16.2),(1.13,16.2),(1.04,16.3),(1.09,16.3),(1.15,16.3),(1.06,16.4),(1.11,16.4),(1.17,16.4),(1.08,16.5),(1.13,16.5),(1.19,16.5),
(1.10,16.6),(1.15,16.6),(1.21,16.6),(1.12,16.7),(1.17,16.7),(1.23,16.7),(1.15,16.8),(1.20,16.8),(1.26,16.8),(1.17,16.9),(1.22,16.9),(1.28,16.9),(1.19,17.0),(1.24,17.0),
(1.30,17.0),(1.21,17.1),(1.26,17.1),(1.32,17.1),(1.22,17.2),(1.27,17.2),(1.33,17.2),(1.24,17.3),(1.29,17.3),(1.35,17.3),(1.25,17.4),(1.30,17.4),(1.36,17.4),(1.27,17.5),
(1.32,17.5),(1.38,17.5),(1.29,17.6),(1.34,17.6),(1.40,17.6),(1.30,17.7),(1.35,17.7),(1.41,17.7),(1.32,17.8),(1.37,17.8),(1.43,17.8),(1.33,17.9),(1.38,17.9),(1.44,17.9),
(1.35,18.0),(1.40,18.0),(1.46,18.0),
(0.50,13.05),(0.68,13.05),(0.51,13.25),(0.72,13.25),(0.52,13.45),(0.76,13.45),(0.55,13.65),(0.77,13.65),(0.58,13.85),(0.78,13.85),(0.61,14.05),(0.79,14.05),
(0.65,14.25),(0.83,14.25),(0.68,14.45),(0.86,14.45),(0.71,14.65),(0.89,14.65),(0.75,14.85),(0.93,14.85),(0.78,15.05),(0.96,15.05),(0.81,15.25),(0.99,15.25),
(0.85,15.45),(1.02,15.45),(0.88,15.65),(1.06,15.65),(0.91,15.85),(1.09,15.85),(0.94,16.05),(1.12,16.05),(0.98,16.25),(1.16,16.25),(1.02,16.45),(1.20,16.45),
(1.06,16.65),(1.24,16.65),(1.10,16.85),(1.29,16.85),(1.15,17.05),(1.33,17.05),(1.18,17.25),(1.36,17.25),(1.21,17.45),(1.39,17.45),(1.24,17.65),(1.43,17.65),
(1.27,17.85),(1.46,17.85),
(0.52,13.0),(0.55,13.2),(0.53,13.4),(0.56,13.6),(0.60,13.8),(0.70,12.9),(0.75,13.1),(0.78,13.3),(0.80,13.5),(0.76,13.7),(0.79,13.9),(0.60,12.8),(0.68,12.7),(0.74,12.5),
(0.70,12.3),(0.75,12.0),(0.80,11.9),(0.82,11.75),(0.86,12.8),(0.83,12.2),(0.78,12.6),(0.65,12.95),(0.58,14.1),(0.62,14.3),(0.85,14.2),(0.90,14.4),(0.95,11.94),(1.12,11.55),
(0.31,12.9),(0.39,12.14),(0.33,13.8),
(1.30,11.85),(1.34,11.80),(1.38,11.90),(1.32,12.00),(1.36,12.05),(1.40,12.00),(1.30,12.20),(1.34,12.25),(1.38,12.20),(1.42,12.30),(1.32,12.40),(1.36,12.45),(1.40,12.50),
(1.34,12.60),(1.37,11.95),(1.35,12.15),(1.44,12.65),(1.36,12.90),(1.34,13.25),(1.40,10.85),(1.48,11.05),(1.52,11.50),(1.58,11.00),(2.27,10.00),
(0.78,17.92),(0.85,17.40),(0.91,17.95),(0.99,17.67),(1.01,17.12),(1.07,17.43),(1.13,17.95),(1.16,17.61),(1.20,17.20),(1.24,17.90),(1.41,16.99),(1.45,17.24),(1.53,17.55),
(1.57,17.49),(1.60,17.30),(1.63,17.12),(1.68,16.93),(1.64,17.90),(1.74,17.98),(1.53,17.90),(0.95,16.56),(0.96,16.37),(1.05,16.68),(1.20,16.31),(1.32,16.37),(1.38,16.75),
(1.28,16.93),(0.79,15.26),(1.03,15.38),(1.09,15.50),(1.07,14.52),(0.95,17.75),(1.00,17.85),(1.05,17.60),(0.88,17.70),(1.10,17.30),(1.48,17.95),(1.30,17.85),
]

target_color = [0.934]
target_mg = [14.91]

# ---------------- plotting ----------------
W, H = 969, 323
fig = plt.figure(figsize=(W/100, H/100), dpi=100)

blue = '#6495ED'
grey = '#c8c8c8'
circ_kw = dict(marker='o', s=42, facecolors='none', edgecolors=blue, linewidths=0.8)
dot_kw = dict(marker='o', s=4.5, color=grey, linewidths=0)

def style(ax, xmaj, xmin, ymaj, ymin):
    ax.xaxis.set_major_locator(MultipleLocator(xmaj))
    ax.xaxis.set_minor_locator(MultipleLocator(xmin))
    ax.yaxis.set_major_locator(MultipleLocator(ymaj))
    ax.yaxis.set_minor_locator(MultipleLocator(ymin))
    ax.tick_params(which='both', direction='in', top=True, right=True, labelsize=8, color='#222222')
    ax.tick_params(which='major', length=5, width=0.8)
    ax.tick_params(which='minor', length=2.5, width=0.6)
    ax.tick_params(axis='x', pad=5)
    ax.tick_params(axis='y', pad=6)
    for sp in ax.spines.values():
        sp.set_linewidth(0.9)
        sp.set_color('#333333')

def legend(ax, handles):
    leg = ax.legend(handles=handles, loc='upper right', bbox_to_anchor=(0.947, 0.944),
                    borderaxespad=0, fontsize=7.5, frameon=True, fancybox=True,
                    handletextpad=1.1, borderpad=0.5, labelspacing=0.4, handlelength=1.6)
    leg.get_frame().set_edgecolor('#cccccc')
    leg.get_frame().set_linewidth(0.8)
    return leg

h_member = Line2D([], [], marker='o', ls='none', markerfacecolor='none', markeredgecolor=blue,
                  markersize=6.3, markeredgewidth=0.8, label=cluster_name)
h_target = Line2D([], [], marker='o', ls='none', color='black', markersize=6.3, label=target_name)

# Panel 1
ax1 = fig.add_axes([55/W, 44/H, 261/W, 269/H])
f = np.array(field_radec).T
m = np.array(member_radec).T
ax1.scatter(f[0], f[1], **dot_kw)
ax1.scatter(m[0], m[1], **circ_kw)
ax1.scatter(target_ra, target_dec, s=44, color='black', zorder=5)
ax1.set_xlim(77.5, 79.0)
ax1.set_ylim(16.0, 17.5)
style(ax1, 0.5, 0.1, 0.5, 0.1)
ax1.xaxis.set_major_formatter(FuncFormatter(lambda v, p: '%.1f' % v))
ax1.yaxis.set_major_formatter(FuncFormatter(lambda v, p: '%.1f' % v))
ax1.set_xlabel('RA', fontsize=9, labelpad=3)
ax1.set_ylabel('Dec', fontsize=9, labelpad=5)
legend(ax1, [h_member, h_target])

# Panel 2
ax2 = fig.add_axes([377/W, 44/H, 260/W, 269/H])
f = np.array(field_pm).T
m = np.array(member_pm).T
ax2.scatter(f[0], f[1], **dot_kw)
ax2.scatter(m[0], m[1], **circ_kw)
ax2.errorbar(target_pmra, target_pmdec, xerr=target_pmra_err, yerr=target_pmdec_err,
             fmt='o', color='black', ecolor='#666666', elinewidth=0.9, markersize=6,
             capsize=0, zorder=5)
ax2.set_xlim(-4, 4)
ax2.set_ylim(-4, 4)
style(ax2, 2, 1, 2, 1)
pmfmt = FuncFormatter(lambda v, p: ('\u2013 %d' % abs(v)) if v < 0 else '%d' % v)
ax2.xaxis.set_major_formatter(pmfmt)
ax2.yaxis.set_major_formatter(pmfmt)
ax2.set_xlabel('μ$_{α}$ cosδ [mas/yr]', fontsize=9, labelpad=3)
ax2.set_ylabel('μ$_{δ}$ [mas/yr]', fontsize=9, labelpad=4)
h_target_eb = ax2.errorbar([], [], xerr=[], yerr=[], fmt='o', color='black', ecolor='black',
                           markersize=4, elinewidth=0.8, capsize=0, label=target_name)
legend(ax2, [h_member, h_target_eb])

# Panel 3
ax3 = fig.add_axes([699/W, 44/H, 260/W, 269/H])
f = np.array(field_cmd).T
m = np.array(member_cmd).T
ax3.scatter(f[0], f[1], **dot_kw)
ax3.scatter(m[0], m[1], **circ_kw)
ax3.scatter(target_color, target_mg, s=44, color='black', zorder=5)
ax3.set_xlim(0, 3)
ax3.set_ylim(20, 10)
style(ax3, 1, 0.2, 2.5, 0.5)
ax3.yaxis.set_major_formatter(FuncFormatter(lambda v, p: '%.1f' % v))
ax3.set_xlabel('G$_{BP}$-G$_{RP}$', fontsize=9, labelpad=3)
ax3.set_ylabel('M$_{G}$', fontsize=9, labelpad=5)
legend(ax3, [h_member, h_target])

fig.savefig('out.png', dpi=100)
